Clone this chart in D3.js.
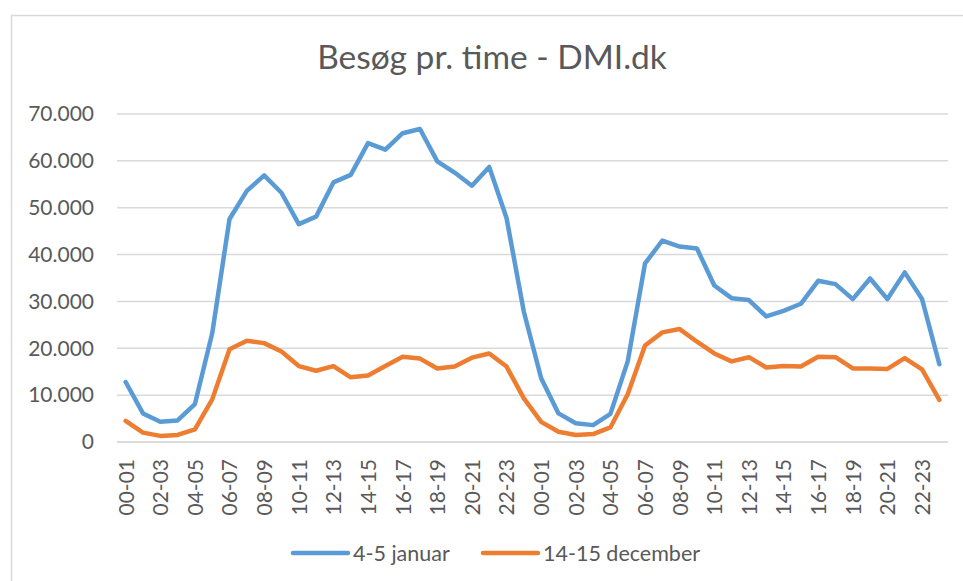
<!DOCTYPE html>
<html>
<head>
<meta charset="utf-8">
<script src="https://cdn.jsdelivr.net/npm/d3@7"></script>
<style>
  html, body { margin: 0; padding: 0; background: #ffffff; }
  svg { display: block; font-family: Lato, "Open Sans", sans-serif; }
</style>
</head>
<body>
<svg id="chart" width="963" height="581"></svg>
<script>
const categories = [
  "00-01","01-02","02-03","03-04","04-05","05-06","06-07","07-08","08-09","09-10","10-11","11-12",
  "12-13","13-14","14-15","15-16","16-17","17-18","18-19","19-20","20-21","21-22","22-23","23-24",
  "00-01","01-02","02-03","03-04","04-05","05-06","06-07","07-08","08-09","09-10","10-11","11-12",
  "12-13","13-14","14-15","15-16","16-17","17-18","18-19","19-20","20-21","21-22","22-23","23-24"
];
const seriesNames = ["4-5 januar", "14-15 december"];
const januar = [
  12800, 6100, 4300, 4600, 8100, 23200, 47600, 53600, 56900, 53200, 46500, 48100,
  55400, 57000, 63800, 62400, 65900, 66800, 59900, 57500, 54700, 58700, 47800, 27800,
  13600, 6100, 4000, 3600, 6000, 17200, 38100, 43000, 41700, 41300, 33400, 30700,
  30300, 26800, 28000, 29500, 34400, 33700, 30500, 34900, 30500, 36200, 30500, 16600
];
const december = [
  4500, 2000, 1300, 1500, 2700, 9100, 19800, 21600, 21100, 19300, 16200, 15200,
  16200, 13800, 14200, 16200, 18200, 17800, 15700, 16100, 18000, 18900, 16100, 9300,
  4300, 2200, 1500, 1700, 3100, 10200, 20600, 23400, 24100, 21400, 18900, 17200,
  18100, 15900, 16200, 16100, 18200, 18100, 15700, 15700, 15600, 17900, 15500, 9000
];
const yTicks = [0, 10000, 20000, 30000, 40000, 50000, 60000, 70000];
const colors = ["#5B9BD5", "#ED7D31"];

const svg = d3.select("#chart");
const textColor = "#595959";
const gridColor = "#D9D9D9";

// outer chart border
svg.append("rect")
  .attr("x", 11.5).attr("y", 15.5)
  .attr("width", 1000).attr("height", 700)
  .attr("fill", "none").attr("stroke", gridColor).attr("stroke-width", 1.5);

// title
svg.append("text")
  .attr("x", 492).attr("y", 69)
  .attr("text-anchor", "middle")
  .attr("fill", textColor)
  .style("font-size", "33.5px")
  .text("Besøg pr. time - DMI.dk");

const pLeft = 117, pRight = 948, pTop = 114, pBottom = 442;
const x = d3.scalePoint().domain(d3.range(categories.length)).range([pLeft, pRight]).padding(0.5);
const y = d3.scaleLinear().domain([0, 70000]).range([pBottom, pTop]);

const locale = d3.formatLocale({decimal: ",", thousands: ".", grouping: [3], currency: ["", " kr"]});
const fmt = locale.format(",");

// gridlines
svg.append("g").selectAll("line").data(yTicks).join("line")
  .attr("x1", pLeft).attr("x2", pRight)
  .attr("y1", d => y(d)).attr("y2", d => y(d))
  .attr("stroke", gridColor).attr("stroke-width", 1.5);

// y axis
const yAxis = svg.append("g")
  .attr("transform", `translate(${pLeft},0)`)
  .call(d3.axisLeft(y).tickValues(yTicks).tickFormat(fmt).tickSize(0).tickPadding(23));
yAxis.select(".domain").remove();
yAxis.selectAll("text").attr("fill", textColor).style("font-size", "21px").style("font-family", "Lato, sans-serif");

// x axis
const xAxis = svg.append("g")
  .attr("transform", `translate(0,${pBottom})`)
  .call(d3.axisBottom(x)
    .tickValues(d3.range(categories.length).filter(i => i % 2 === 0))
    .tickFormat(i => categories[i])
    .tickSize(0)
    .tickSizeOuter(0));
xAxis.select(".domain").attr("stroke", gridColor).attr("stroke-width", 1.5)
  .attr("d", `M${pLeft},0H${pRight}`);
xAxis.selectAll("text")
  .attr("fill", textColor)
  .style("font-size", "21px")
  .style("font-family", "Lato, sans-serif")
  .attr("transform", "rotate(-90)")
  .attr("x", -17).attr("y", 0).attr("dy", "0.35em")
  .style("text-anchor", "end");

// lines
const line = d3.line().x((d, i) => x(i)).y(d => y(d)).curve(d3.curveLinear);
[januar, december].forEach((s, k) => {
  svg.append("path")
    .datum(s)
    .attr("fill", "none")
    .attr("stroke", colors[k])
    .attr("stroke-width", 4.5)
    .attr("stroke-linejoin", "round")
    .attr("stroke-linecap", "round")
    .attr("d", line);
});

// legend
const legendItems = [
  {name: seriesNames[0], color: colors[0], x: 293},
  {name: seriesNames[1], color: colors[1], x: 483}
];
const lg = svg.append("g").selectAll("g").data(legendItems).join("g")
  .attr("transform", d => `translate(${d.x},553)`);
lg.append("line").attr("x1", 0).attr("x2", 55).attr("y1", 0).attr("y2", 0)
  .attr("stroke", d => d.color).attr("stroke-width", 4.5).attr("stroke-linecap", "round");
lg.append("text").attr("x", 60).attr("y", 0).attr("dy", "0.35em")
  .attr("fill", textColor).style("font-size", "21.5px")
  .text(d => d.name);
</script>
</body>
</html>
